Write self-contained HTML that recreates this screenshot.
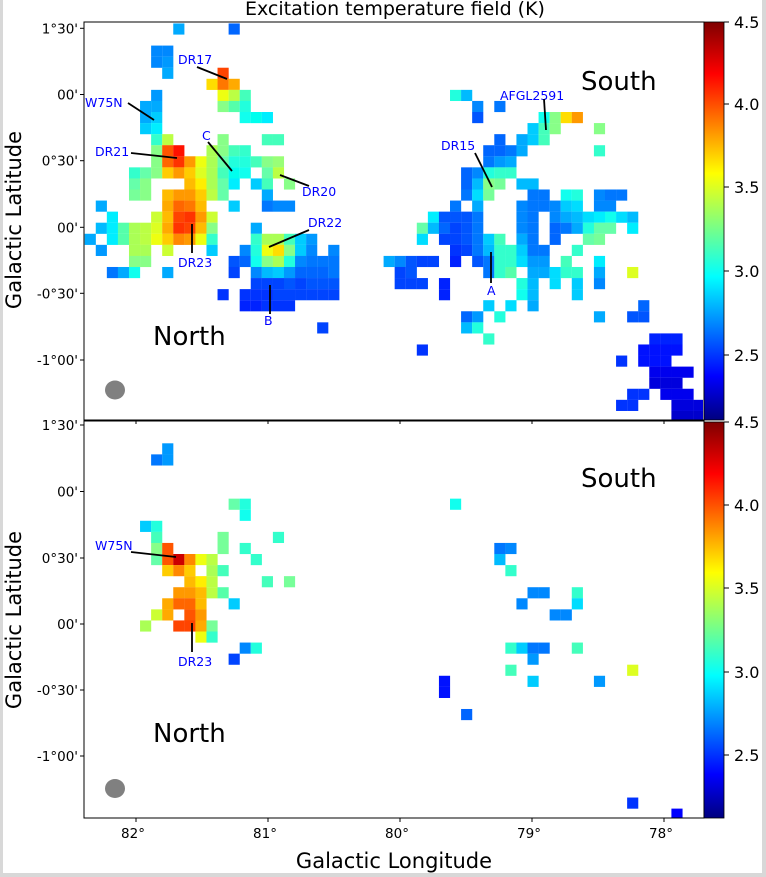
<!DOCTYPE html>
<html><head><meta charset="utf-8"><style>
html,body{margin:0;padding:0;background:#fff;}
body{width:766px;height:877px;overflow:hidden;position:relative;}
svg{position:absolute;left:0;top:0;}
text{font-family:"DejaVu Sans","Liberation Sans",sans-serif;}
</style></head><body>
<svg id="s" width="766" height="877" xmlns="http://www.w3.org/2000/svg">
<defs>
<linearGradient id="jet" x1="0" y1="1" x2="0" y2="0">
<stop offset="0" stop-color="#00007f"/><stop offset="0.11" stop-color="#0000ff"/><stop offset="0.36" stop-color="#00ffff"/><stop offset="0.62" stop-color="#ffff00"/><stop offset="0.87" stop-color="#ff0000"/><stop offset="1" stop-color="#7f0000"/>
</linearGradient>
<clipPath id="c1"><rect x="84" y="22" width="619" height="398"/></clipPath>
<clipPath id="c2"><rect x="84" y="422" width="619" height="396"/></clipPath>
</defs>
<rect x="0" y="0" width="3" height="877" fill="#d8d8d8"/>
<rect x="762" y="0" width="4" height="877" fill="#d8d8d8"/>
<rect x="0" y="873" width="766" height="4" fill="#d8d8d8"/>
<g id="g1" clip-path="url(#c1)"></g>
<g id="g2" clip-path="url(#c2)"></g>
<rect x="84" y="22" width="620" height="398" fill="none" stroke="#000" stroke-width="1"/>
<rect x="84" y="421" width="620" height="397" fill="none" stroke="#000" stroke-width="1"/>
<rect x="704" y="22" width="20" height="398" fill="url(#jet)" stroke="#000" stroke-width="0.8"/>
<rect x="704" y="422" width="20" height="396" fill="url(#jet)" stroke="#000" stroke-width="0.8"/>
<g id="ticks" stroke="#000" stroke-width="1"></g>
<g id="lbl" font-size="13.5" fill="#000"></g>
<g id="cbl" font-size="16" fill="#000"></g>
<text x="395" y="15" font-size="19" text-anchor="middle">Excitation temperature field (K)</text>
<text x="394" y="868" font-size="21" text-anchor="middle">Galactic Longitude</text>
<text transform="translate(21,220) rotate(-90)" font-size="21" text-anchor="middle">Galactic Latitude</text>
<text transform="translate(21,620) rotate(-90)" font-size="21" text-anchor="middle">Galactic Latitude</text>
<text x="581" y="90" font-size="26">South</text>
<text x="153" y="345" font-size="26">North</text>
<text x="581" y="487" font-size="26">South</text>
<text x="153" y="742" font-size="26">North</text>
<ellipse cx="115" cy="390" rx="10" ry="9.5" fill="#808080"/>
<ellipse cx="115" cy="788.5" rx="10" ry="9.5" fill="#808080"/>
<g fill="#0000ff" font-size="12.5">
<text x="178" y="64">DR17</text>
<text x="85" y="107">W75N</text>
<text x="202" y="140">C</text>
<text x="95" y="156">DR21</text>
<text x="302" y="196">DR20</text>
<text x="308" y="227">DR22</text>
<text x="178" y="267">DR23</text>
<text x="264" y="325">B</text>
<text x="500" y="100">AFGL2591</text>
<text x="441" y="150">DR15</text>
<text x="487" y="295">A</text>
<text x="95" y="550">W75N</text>
<text x="178" y="666">DR23</text>
</g>
<g stroke="#000" stroke-width="1.8">
<line x1="197" y1="67" x2="227" y2="79"/>
<line x1="128" y1="103" x2="154" y2="120"/>
<line x1="208" y1="142" x2="232" y2="171"/>
<line x1="131" y1="153" x2="177" y2="158"/>
<line x1="280" y1="175" x2="309" y2="186"/>
<line x1="309" y1="230" x2="269" y2="247"/>
<line x1="192" y1="224" x2="192" y2="253"/>
<line x1="270" y1="285" x2="270" y2="314"/>
<line x1="544" y1="99" x2="546" y2="130"/>
<line x1="475" y1="153" x2="492" y2="187"/>
<line x1="491" y1="252" x2="491" y2="283"/>
<line x1="131" y1="552" x2="176" y2="557"/>
<line x1="192" y1="623" x2="192" y2="652"/>
</g>
</svg>
<script>
var NS="http://www.w3.org/2000/svg";
function cells(g,y0,data){
  var el=document.getElementById(g);
  data.forEach(function(r){
    var j=r[0],k=r[1];
    for(var i=2;i<r.length;i++){
      var e=document.createElementNS(NS,"rect");
      e.setAttribute("x",(84.7+11.07*(k+i-2)).toFixed(2));
      e.setAttribute("y",(y0+11.07*j).toFixed(2));
      e.setAttribute("width","11.15");e.setAttribute("height","11.15");
      e.setAttribute("fill","#"+r[i]);
      el.appendChild(e);
    }
  });
}
cells("g1",1.3,[
[2,8,'0af'],[2,13,'06f'],
[4,6,'08f','08f'],[5,6,'08f','09f'],
[6,7,'0af'],[6,12,'f40'],
[7,11,'fd0','f70','fa0'],
[8,6,'09f'],[8,12,'ef1','bf4','4fb'],
[9,5,'0af','0af'],[9,12,'8f8','5fa','2fd'],
[10,5,'0af','0cf'],[10,14,'1fe','0fe','0ef'],
[11,5,'0cf','0ef'],
[12,6,'3fc','bf4'],[12,12,'8f8'],[12,16,'4fb','4fb'],
[13,6,'8f8','f50','f10'],[13,11,'af5','8f8','4fb','3fc'],
[14,6,'8f8','f60','f30','f90','ef1','af5','6fa','2fd','2fd','4fb','8f8','9f7'],
[15,4,'3fc','6fa','8f8','fc0','f90','fc0','df2','af5','4fb','0fe','1fe'],[15,16,'6fa','bf4'],
[16,4,'6fa','8f8'],[16,9,'fb0','fe0','af5','6fa','0ef'],[16,15,'0cf','4fb'],[16,18,'8f8'],
[17,4,'7f9','8f8'],[17,7,'fb0','f90','f90','fc0','bf4','6fa'],[17,16,'0af'],
[18,1,'0af'],[18,7,'fa0','f60','f70','fb0'],[18,13,'0cf'],[18,16,'07f','08f','08f'],
[19,2,'0ef'],[19,6,'cf3','fb0','f40','f30','f90','cf3'],
[20,1,'0bf','0ef','5fa','af5','bf4','df2','fa0','f30','f40','fb0','8f8'],[20,15,'0af'],
[21,0,'0af'],[21,2,'0ef','5fa','af5','bf4','ef1','fc0','f80','f90','ef1','3fc'],[21,15,'3fc','af5','af5','4fb','0cf','09f'],
[22,1,'09f'],[22,4,'af5','af5'],[22,7,'cf3'],[22,11,'0cf'],[22,14,'08f','2fd','ef1','fd0','8f8','0cf','08f'],[22,22,'08f'],
[23,4,'8f8','8f8'],[23,13,'05f','06f','1fe','8f8','af5','2fd','08f','07f','07f','07f'],
[24,2,'07f','0af','1fe'],[24,7,'0af'],[24,13,'04f'],[24,15,'08f','0bf','0cf','09f','06f','06f','06f','07f'],
[25,15,'04f','04f','04f','05f','04f','05f','05f','05f'],
[26,12,'03f'],[26,14,'03f','03f','03f','04f','04f','04f','04f','04f','04f'],
[27,14,'02f','02f','03f','03f','03f'],
[29,21,'04f'],
[8,33,'2fd','0bf'],
[9,35,'08f'],[9,37,'07f'],
[10,35,'05f'],[10,41,'1fe','8f8','fd0','f90'],
[11,40,'0cf','4fb','8f8'],[11,46,'8f8'],
[12,37,'06f'],[12,39,'0af','0cf','4fb'],
[13,36,'06f','06f','07f','0af'],[13,46,'3fc'],
[14,36,'07f','09f','0af'],
[15,34,'06f','08f','2fd','3fc','3fc'],
[16,34,'06f','0bf','8f8','7f9'],[16,39,'0bf','0bf'],
[17,34,'07f','0df','7f9'],[17,40,'07f','07f'],[17,43,'1fe','2fd'],[17,46,'08f','07f','07f'],
[18,33,'07f'],[18,35,'0af'],[18,39,'08f','07f','07f','08f','0cf','0df'],[18,46,'08f','08f'],
[19,31,'0ef','05f','05f','05f','07f'],[19,39,'08f','07f'],[19,42,'08f','0af','0bf','0df','0ef','1fe','0df','0bf'],
[20,30,'6fa','0bf','06f','04f','05f','07f'],[20,39,'08f','07f'],[20,42,'06f','07f','0af','2fd','6fa','6fa'],[20,49,'0ef'],
[21,30,'0df'],[21,32,'04f','04f','05f','07f','0cf','4fb'],[21,39,'0af','07f'],[21,42,'06f'],[21,45,'6fa','7f9'],
[22,33,'03f','04f','07f','0bf','3fc','3fc','0cf','07f','07f'],[22,44,'3fc'],
[23,27,'0af','08f','05f','04f','04f'],[23,33,'02f'],[23,35,'05f','07f','3fc','3fc','0df','09f','09f'],[23,43,'4fb'],[23,46,'0ef'],
[24,28,'04f','05f'],[24,36,'07f','3fc','5fa'],[24,40,'0af','0af','0df','3fc','3fc'],[24,46,'0af'],[24,49,'df2'],
[25,28,'04f','04f','04f'],[25,32,'02f'],[25,39,'2fd','0bf'],[25,42,'0df'],[25,44,'0cf'],[25,46,'08f'],
[26,32,'02f'],[26,39,'1fe','0bf'],[26,44,'0cf'],
[27,36,'0cf'],[27,38,'0df'],[27,40,'0af'],[27,50,'06f'],
[28,34,'06f','09f'],[28,37,'2fd'],[28,46,'0af'],[28,49,'05f','05f'],
[29,34,'0bf','2fd'],
[30,36,'3fc'],[30,51,'02f','02f','02f'],
[31,30,'03f'],[31,50,'01f','01f','01f','01f'],
[32,48,'03f'],[32,50,'01f','01f','01f'],
[33,51,'00e','00e','00e','00e'],
[34,51,'00d','00d','00d'],
[35,49,'03f','03f'],[35,52,'00e','00e','00e'],
[36,48,'03f','03f'],[36,53,'00d','00d','00d'],
[37,53,'00c','00c','00c']
]);
cells("g2",443.3,[
[0,7,'09f'],[1,6,'07f','09f'],
[5,13,'6fa','2fd'],[5,33,'1fe'],
[6,14,'1fe'],
[7,5,'0cf','2fd'],
[8,6,'4fb'],[8,12,'7f9'],[8,17,'3fc'],
[9,6,'8f8','f50'],[9,12,'7f9'],[9,14,'3fc'],[9,37,'07f','08f'],
[10,6,'6fa','f50','c00','f80','ef1','bf4'],[10,15,'3fc'],[10,37,'0bf'],
[11,7,'fc0','f80','fc0'],[11,11,'af5','4fb'],[11,38,'3fc'],
[12,9,'fb0','fe0','bf4'],[12,16,'4fb'],[12,18,'7f9'],
[13,8,'f90','f90','fb0','bf4','5fa'],[13,40,'08f','08f'],[13,44,'3fc'],
[14,7,'fa0','f60','f60','fb0'],[14,13,'0cf'],[14,39,'08f'],[14,44,'0df'],
[15,6,'cf3','fa0'],[15,9,'f50','f90'],[15,42,'08f','08f'],
[16,5,'af5'],[16,8,'f40','f40','fa0','7f9'],
[17,10,'ef1','3fc'],
[18,14,'08f','2fd'],[18,38,'3fc','0cf','07f','07f'],[18,44,'4fb'],
[19,13,'04f'],[19,40,'09f'],
[20,38,'4fb'],[20,49,'df2'],
[21,32,'01f'],[21,40,'0cf'],[21,46,'09f'],
[22,32,'01f'],
[24,34,'06f'],
[32,49,'03f'],[33,53,'00f']
]);
var T=document.getElementById("ticks"),L=document.getElementById("lbl"),C=document.getElementById("cbl");
function ln(x1,y1,x2,y2){var e=document.createElementNS(NS,"line");e.setAttribute("x1",x1);e.setAttribute("y1",y1);e.setAttribute("x2",x2);e.setAttribute("y2",y2);T.appendChild(e);}
function tx(p,x,y,s,a){var e=document.createElementNS(NS,"text");e.setAttribute("x",x);e.setAttribute("y",y);e.setAttribute("text-anchor",a);e.textContent=s;p.appendChild(e);}
var yl=["1°30'","00'","0°30'","00'","-0°30'","-1°00'"];
[28.3,94.5,160.7,227.3,293.3,360].forEach(function(y,i){ln(80,y,84,y);tx(L,78,y+5,yl[i],"end");});
[425,491.5,558,624,690,756].forEach(function(y,i){ln(80,y,84,y);tx(L,78,y+5,yl[i],"end");});
var xl=["82°","81°","80°","79°","78°"];
[136,268,400,532,664].forEach(function(x,i){ln(x,818,x,822);ln(x,420,x,424);tx(L,x-3,838,xl[i],"middle");});
var cl=["4.5","4.0","3.5","3.0","2.5"];
[22,104,187,271,355].forEach(function(y,i){ln(724,y,729,y);tx(C,734,y+6,cl[i],"start");});
[422,505,588,672,755].forEach(function(y,i){ln(724,y,729,y);tx(C,734,y+6,cl[i],"start");});
</script>
</body></html>
